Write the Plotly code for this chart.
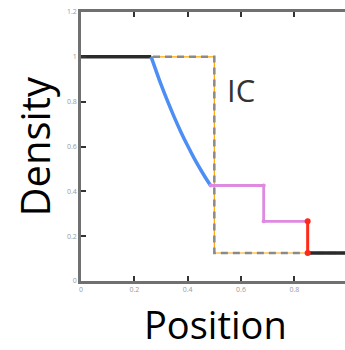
import plotly.graph_objects as go

# Initial condition (IC)
ic_x = [0.0, 0.5, 0.5, 1.0]
ic_y = [1.0, 1.0, 0.125, 0.125]

# Left state (undisturbed)
left_x = [0.0, 0.263]
left_y = [1.0, 1.0]

# Rarefaction fan
rare_x = [0.263, 0.28, 0.30, 0.325, 0.35, 0.375, 0.40, 0.425, 0.45, 0.47, 0.486]
rare_y = [1.0, 0.943, 0.877, 0.801, 0.730, 0.664, 0.603, 0.546, 0.494, 0.455, 0.426]

# Contact region
contact_x = [0.486, 0.685, 0.685, 0.85]
contact_y = [0.426, 0.426, 0.266, 0.266]

# Shock
shock_x = [0.845, 0.85, 0.85]
shock_y = [0.266, 0.266, 0.125]

# Right state (undisturbed)
right_x = [0.85, 1.0]
right_y = [0.125, 0.125]

x_ticks = [0, 0.2, 0.4, 0.6, 0.8]
x_labels = ["0", "0.2", "0.4", "0.6", "0.8"]
y_ticks = [0, 0.2, 0.4, 0.6, 0.8, 1.0, 1.2]
y_labels = ["0", "0.2", "0.4", "0.6", "0.8", "1", "1.2"]

fig = go.Figure()
fig.add_trace(go.Scatter(x=ic_x, y=ic_y, mode="lines",
                         line=dict(color="#ffa500", width=1.2)))
fig.add_trace(go.Scatter(x=ic_x, y=ic_y, mode="lines",
                         line=dict(color="#8a8a8a", width=2.5, dash="7px,5px")))
fig.add_trace(go.Scatter(x=left_x, y=left_y, mode="lines",
                         line=dict(color="#2a2a2a", width=3.5)))
fig.add_trace(go.Scatter(x=rare_x, y=rare_y, mode="lines",
                         line=dict(color="#4d8ef5", width=3.5, shape="spline")))
fig.add_trace(go.Scatter(x=contact_x, y=contact_y, mode="lines+markers",
                         line=dict(color="#dd8ae0", width=2.8),
                         marker=dict(size=4, color="#dd8ae0")))
fig.add_trace(go.Scatter(x=right_x, y=right_y, mode="lines",
                         line=dict(color="#2a2a2a", width=3.5)))
fig.add_trace(go.Scatter(x=shock_x, y=shock_y, mode="lines",
                         line=dict(color="#ff2a1a", width=3)))
fig.add_trace(go.Scatter(x=[shock_x[1], shock_x[2]], y=[shock_y[1], shock_y[2]], mode="markers",
                         marker=dict(size=6, color="#ff2a1a")))

fig.add_annotation(x=0.6, y=0.85, text="IC", showarrow=False,
                   font=dict(family="Open Sans", size=31, color="#333333"))
fig.add_annotation(xref="paper", yref="paper", x=-0.178, y=0.50, text="Density",
                   textangle=-90, showarrow=False, xanchor="center", yanchor="middle",
                   font=dict(family="Open Sans", size=40, color="#000000"))
fig.add_annotation(xref="paper", yref="paper", x=0.511, y=-0.158, text="Position",
                   showarrow=False, xanchor="center", yanchor="middle",
                   font=dict(family="Open Sans", size=38, color="#000000"))

axis_common = dict(showgrid=False, zeroline=False, showline=True, linecolor="#707070",
                   linewidth=2.5, ticks="inside", ticklen=5, tickwidth=1.5,
                   tickcolor="#333333",
                   tickfont=dict(family="Open Sans", size=7, color="#9a9a9a"))
fig.update_xaxes(range=[0, 0.99], tickvals=x_ticks, ticktext=x_labels, mirror="ticks",
                 **axis_common)
fig.update_yaxes(range=[0, 1.2], tickvals=y_ticks, ticktext=y_labels, mirror=False,
                 **axis_common)

fig.update_layout(width=345, height=350, showlegend=False,
                  margin=dict(l=81, r=0, t=12, b=69),
                  plot_bgcolor="white", paper_bgcolor="white")

fig.write_html("out.html")
